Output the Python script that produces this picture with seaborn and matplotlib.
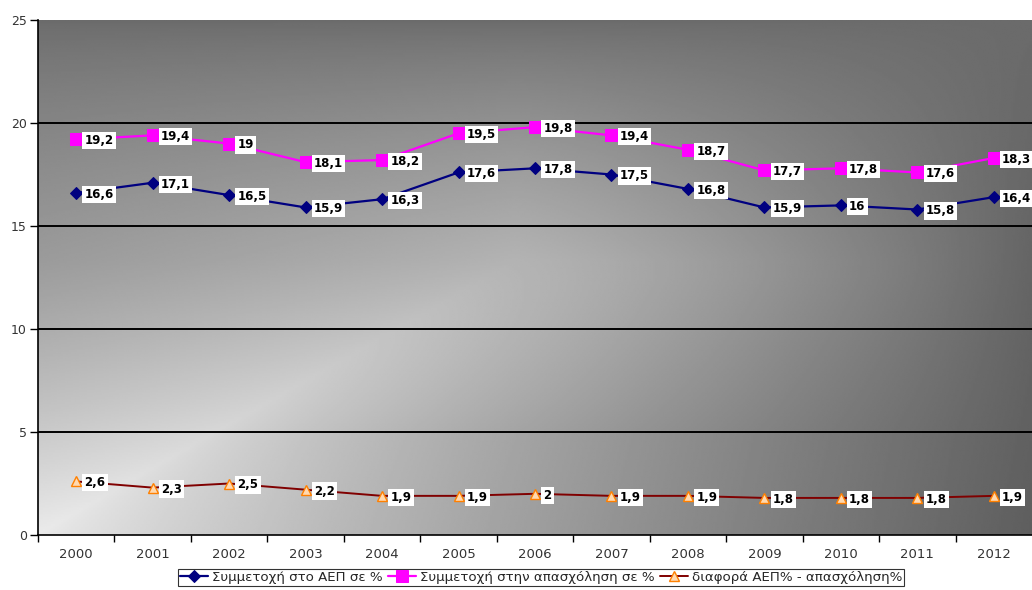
import numpy as np
import pandas as pd
import matplotlib
matplotlib.use("Agg")
import matplotlib.pyplot as plt
import seaborn as sns

years = ["2000", "2001", "2002", "2003", "2004", "2005", "2006",
         "2007", "2008", "2009", "2010", "2011", "2012"]
gdp_share = [16.6, 17.1, 16.5, 15.9, 16.3, 17.6, 17.8, 17.5, 16.8, 15.9, 16.0, 15.8, 16.4]
emp_share = [19.2, 19.4, 19.0, 18.1, 18.2, 19.5, 19.8, 19.4, 18.7, 17.7, 17.8, 17.6, 18.3]
diff_vals = [2.6, 2.3, 2.5, 2.2, 1.9, 1.9, 2.0, 1.9, 1.9, 1.8, 1.8, 1.8, 1.9]
series_names = ["Συμμετοχή στο ΑΕΠ σε %",
                "Συμμετοχή στην απασχόληση σε %",
                "διαφορά ΑΕΠ% - απασχόληση%"]
y_ticks = [0, 5, 10, 15, 20, 25]

sns.set_theme(style="white")
plt.rcParams['font.family'] = ['DejaVu Sans']

fig = plt.figure(figsize=(10.32, 5.90), dpi=100)
ax = fig.add_axes([38/1032, 55/590, 1 - 38/1032, 515/590])

# gradient background (dark top/right, light ridge from bottom-left to centre)
ny, nx = 300, 500
yy, xx = np.mgrid[0:1:ny*1j, 0:1:nx*1j]
D = 0.42 - 0.05 * xx * yy
P = 0.42 + 0.5 * yy ** 0.75
xc = np.minimum(0.9 * (1 - yy), 0.48)
p = np.clip(1.25 - 1.5 * (yy - 0.5), 0.8, 1.25)
t = np.clip((xx - xc) / np.maximum(1 - xc, 1e-3), 0, 1)
s_right = 1 - t ** p
s_left = 1 - 0.35 * (xc - xx) / 0.5
s = np.where(xx < xc, s_left, s_right)
B = D + (P - D) * s
ax.imshow(B, cmap="gray", vmin=0, vmax=1, extent=[0, 1, 0, 1], origin="upper",
          transform=ax.transAxes, aspect="auto", zorder=0, interpolation="bilinear")

pos = np.arange(len(years))
df = pd.DataFrame({"pos": pos, "gdp": gdp_share, "emp": emp_share, "diff": diff_vals})

sns.lineplot(data=df, x="pos", y="gdp", ax=ax, color="#000080", lw=1.6,
             marker="D", markersize=6.5, mec="#000080", mfc="#000080",
             label=series_names[0], zorder=3)
sns.lineplot(data=df, x="pos", y="emp", ax=ax, color="#ff00ff", lw=1.6,
             marker="s", markersize=8.5, mec="#ff00ff", mfc="#ff00ff",
             label=series_names[1], zorder=3)
sns.lineplot(data=df, x="pos", y="diff", ax=ax, color="#800000", lw=1.4,
             marker="^", markersize=6.5, mec="#ff8000", mfc="#ffd9b0", mew=1.0,
             label=series_names[2], zorder=3)

def fmt(v):
    s = f"{v:.1f}".rstrip("0").rstrip(".")
    return s.replace(".", ",")

for vals in (gdp_share, emp_share, diff_vals):
    for p_, v in zip(pos, vals):
        ax.annotate(fmt(v), (p_, v), xytext=(6, -1), textcoords="offset points",
                    ha="left", va="center", fontsize=8.5, fontweight="bold",
                    color="black", zorder=5,
                    bbox=dict(boxstyle="square,pad=0.18", fc="white", ec="none"))

ax.set_xlim(-0.5, 12.5)
ax.set_ylim(0, 25)
ax.set_yticks(y_ticks)
ax.set_yticklabels([str(t) for t in y_ticks])
ax.set_xticks(pos)
ax.set_xticklabels(years)
ax.set_xticks(np.arange(-0.5, 12.5, 1.0), minor=True)
ax.tick_params(axis="x", which="major", length=0, pad=9, labelsize=9.5, labelcolor="#333333")
ax.tick_params(axis="x", which="minor", length=5, width=1, color="black", direction="out", bottom=True)
ax.tick_params(axis="y", which="major", length=6, width=1, color="black", direction="out",
               left=True, pad=2, labelsize=9, labelcolor="#333333")
ax.set_xlabel("")
ax.set_ylabel("")

for yv in y_ticks[1:-1]:
    ax.axhline(yv, color="black", lw=1.4, zorder=1)

for side in ("top", "right"):
    ax.spines[side].set_visible(False)
for side in ("left", "bottom"):
    ax.spines[side].set_color("black")
    ax.spines[side].set_linewidth(1.2)

ax.get_legend().remove()
handles, labels = ax.get_legend_handles_labels()
leg = fig.legend(handles, labels, loc="center", bbox_to_anchor=(541/1032, 13/590),
                 ncol=3, fontsize=9.6, frameon=True, fancybox=False, edgecolor="black",
                 handlelength=2.1, handletextpad=0.3, columnspacing=0.4,
                 borderpad=0.15, borderaxespad=0)
leg.get_frame().set_linewidth(0.8)

fig.savefig("out.png", dpi=100, facecolor="white")
